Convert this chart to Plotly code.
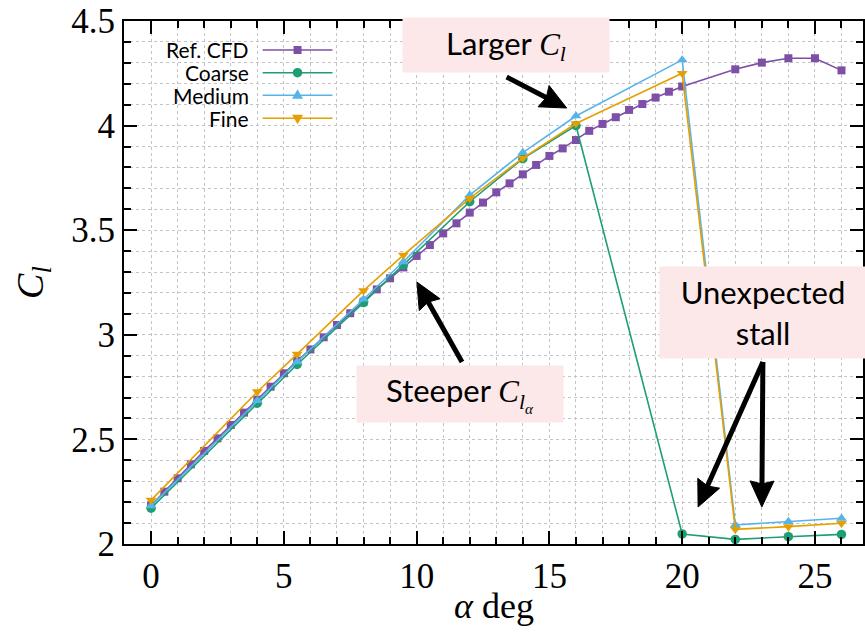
import math
import plotly.graph_objects as go

# ---------------- data ----------------
ref_alpha = [0, 0.5, 1, 1.5, 2, 2.5, 3, 3.5, 4, 4.5, 5, 5.5, 6, 6.5, 7, 7.5, 8, 8.5,
             9, 9.5, 10, 10.5, 11, 11.5, 12, 12.5, 13, 13.5, 14, 14.5, 15, 15.5,
             16, 16.5, 17, 17.5, 18, 18.5, 19, 19.5, 20, 22, 23, 24, 25, 26]
ref_cl = [2.185, 2.250, 2.314, 2.381, 2.445, 2.505, 2.569, 2.628, 2.690, 2.752,
          2.816, 2.876, 2.930, 2.988, 3.047, 3.103, 3.158, 3.217, 3.270, 3.322,
          3.377, 3.429, 3.485, 3.533, 3.584, 3.632, 3.681, 3.724, 3.767, 3.812,
          3.855, 3.891, 3.931, 3.975, 4.008, 4.040, 4.075, 4.103, 4.134, 4.162,
          4.187, 4.269, 4.301, 4.322, 4.322, 4.264]

grid_alpha = [0, 4, 5.5, 8, 9.5, 12, 14, 16, 20, 22, 24, 26]
coarse_cl = [2.171, 2.673, 2.858, 3.154, 3.334, 3.636, 3.842, 4.000, 2.048, 2.022, 2.035, 2.046]
medium_cl = [2.182, 2.685, 2.871, 3.170, 3.349, 3.668, 3.871, 4.046, 4.314, 2.091, 2.107, 2.123]
fine_cl = [2.210, 2.728, 2.908, 3.211, 3.381, 3.652, 3.845, 4.010, 4.250, 2.070, 2.083, 2.099]

series_names = ["Ref. CFD", "Coarse", "Medium", "Fine"]
series_x = [ref_alpha, grid_alpha, grid_alpha, grid_alpha]
series_y = [ref_cl, coarse_cl, medium_cl, fine_cl]

x_ticks = [0, 5, 10, 15, 20, 25]
y_ticks = [2, 2.5, 3, 3.5, 4, 4.5]
y_tick_text = ["2", "2.5", "3", "3.5", "4", "4.5"]

x_title = "<i>α</i> deg"
y_title = "<i>C</i><sub><i>l</i></sub>"

# ---------------- styles ----------------
colors = ["#7d4fa6", "#1e9e74", "#56b4e9", "#e69f00"]
symbols = ["square", "circle", "triangle-up", "triangle-down"]
msizes = [8, 9.5, 9.5, 9.5]

W, H = 865, 637
ML, MR, MT, MB = 124, 0, 21, 93
PW, PH = W - ML - MR, H - MT - MB
XR = [-1.02, 26.81]
YR = [2.0, 4.5]

SERIF = "Liberation Serif"
SANS = "Lato"
GRID = "#c4c4c4"
BOX = "#fce8e8"


def px2paper_x(px):
    return (px - ML) / PW


def px2paper_y(py):
    return (H - MB - py) / PH


def d2px(x, y):
    return (ML + (x - XR[0]) / (XR[1] - XR[0]) * PW,
            MT + (YR[1] - y) / (YR[1] - YR[0]) * PH)


def px2d(px, py):
    return (XR[0] + (px - ML) / PW * (XR[1] - XR[0]),
            YR[1] - (py - MT) / PH * (YR[1] - YR[0]))


fig = go.Figure()
for name, xs, ys, c, s, ms in zip(series_names, series_x, series_y, colors, symbols, msizes):
    fig.add_trace(go.Scatter(
        x=xs, y=ys, name=name, mode="lines+markers",
        line=dict(color=c, width=1.6),
        marker=dict(symbol=s, size=ms, color=c, line=dict(width=0)),
        showlegend=False,
    ))

axis_common = dict(
    showline=True, linecolor="black", linewidth=2, mirror="allticks",
    ticks="inside", ticklen=13, tickwidth=1.5, tickcolor="black",
    showgrid=True, gridcolor=GRID, griddash="dot", gridwidth=1,
    zeroline=False,
    tickfont=dict(family=SERIF, size=35, color="black"),
)

fig.update_xaxes(
    range=XR, tickvals=x_ticks,
    minor=dict(dtick=1, tick0=0, ticks="inside", ticklen=7, tickwidth=1.5,
               tickcolor="black", showgrid=True, gridcolor=GRID, griddash="dot", gridwidth=1),
    **axis_common,
)
fig.update_yaxes(
    range=YR, tickvals=y_ticks, ticktext=y_tick_text,
    minor=dict(dtick=0.1, tick0=2, ticks="inside", ticklen=7, tickwidth=1.5,
               tickcolor="black", showgrid=True, gridcolor=GRID, griddash="dot", gridwidth=1),
    title=dict(text=y_title, font=dict(family=SERIF, size=38, color="black"), standoff=16),
    **axis_common,
)

shapes = []
annotations = []

# x-axis title placed precisely
annotations.append(dict(
    x=0.5, y=px2paper_y(606), xref="paper", yref="paper", xanchor="center", yanchor="middle",
    text=x_title, showarrow=False, font=dict(family=SERIF, size=36, color="black"),
))

# ---------------- manual legend (text right-aligned, sample on the right) ----------------
leg_rows = [50, 72.7, 95.3, 118.3]
marker_paths = {
    "square": "M-4,-4 L4,-4 L4,4 L-4,4 Z",
    "triangle-up": "M-5.5,-3.5 L5.5,-3.5 L0,6 Z",
    "triangle-down": "M-5.5,3.5 L5.5,3.5 L0,-6 Z",
}
for name, c, s, py in zip(series_names, colors, symbols, leg_rows):
    yp = px2paper_y(py)
    annotations.append(dict(
        x=px2paper_x(250), y=yp, xref="paper", yref="paper", xanchor="right", yanchor="middle",
        text=name, showarrow=False, font=dict(family=SANS, size=21, color="black"),
        borderpad=0,
    ))
    shapes.append(dict(type="line", xref="paper", yref="paper",
                       x0=px2paper_x(263), x1=px2paper_x(333), y0=yp, y1=yp,
                       line=dict(color=c, width=1.6)))
    if s == "circle":
        shapes.append(dict(type="circle", xref="paper", yref="paper",
                           xsizemode="pixel", ysizemode="pixel",
                           xanchor=px2paper_x(298), yanchor=yp,
                           x0=-4.8, x1=4.8, y0=-4.8, y1=4.8,
                           fillcolor=c, line=dict(width=0)))
    else:
        shapes.append(dict(type="path", xref="paper", yref="paper",
                           xsizemode="pixel", ysizemode="pixel",
                           xanchor=px2paper_x(298), yanchor=yp,
                           path=marker_paths[s], fillcolor=c, line=dict(width=0)))

# ---------------- callout boxes ----------------
math_c = '<span style="font-family:Liberation Serif;font-style:italic">C</span>'
math_l = '<span style="font-family:Liberation Serif;font-style:italic">l</span>'
math_a = '<span style="font-family:Liberation Serif;font-style:italic">α</span>'

box_font = dict(family=SANS, size=31, color="black")
annotations += [
    dict(x=13.38, y=4.383, xref="x", yref="y", showarrow=False,
         text="Larger " + math_c + "<sub>" + math_l + "</sub>",
         bgcolor=BOX, width=200, height=48, borderpad=3, font=box_font),
    dict(x=11.65, y=2.719, xref="x", yref="y", showarrow=False,
         text="Steeper " + math_c + "<sub>" + math_l + "<sub>" + math_a + "</sub></sub>",
         bgcolor=BOX, width=200, height=50, borderpad=3, font=box_font),
    dict(x=23.05, y=3.109, xref="x", yref="y", showarrow=False,
         text="Unexpected<br>stall",
         bgcolor=BOX, width=200, height=85, borderpad=3, font=box_font),
]

# arrows drawn as shapes: head tip (x, y) and tail (ax, ay) in data units
arrow_specs = [
    (15.65, 4.084, 13.39, 4.232),
    (10.01, 3.252, 11.71, 2.870),
    (20.60, 2.177, 23.04, 2.870),
    (23.00, 2.177, 23.04, 2.870),
]
HEAD_L, HEAD_W, NOTCH = 26.0, 12.0, 3.0
for hx, hy, tx, ty in arrow_specs:
    hpx, hpy = d2px(hx, hy)
    tpx, tpy = d2px(tx, ty)
    dx, dy = hpx - tpx, hpy - tpy
    n = math.hypot(dx, dy)
    ux, uy = dx / n, dy / n
    nx, ny = -uy, ux
    bx, by = hpx - ux * HEAD_L, hpy - uy * HEAD_L
    p_l = (bx + nx * HEAD_W, by + ny * HEAD_W)
    p_r = (bx - nx * HEAD_W, by - ny * HEAD_W)
    p_n = (bx + ux * NOTCH, by + uy * NOTCH)
    lx, ly = px2d(bx + ux * (NOTCH + 2), by + uy * (NOTCH + 2))
    shapes.append(dict(type="line", xref="x", yref="y", x0=tx, y0=ty, x1=lx, y1=ly,
                       line=dict(color="black", width=5)))
    pts = [px2d(hpx, hpy), px2d(*p_l), px2d(*p_n), px2d(*p_r)]
    path = "M" + " L".join(f"{x:.5f},{y:.5f}" for x, y in pts) + " Z"
    shapes.append(dict(type="path", xref="x", yref="y", path=path,
                       fillcolor="black", line=dict(color="black", width=1)))

fig.update_layout(
    width=W, height=H,
    margin=dict(l=ML, r=MR, t=MT, b=MB),
    plot_bgcolor="white", paper_bgcolor="white",
    shapes=shapes, annotations=annotations,
    showlegend=False,
)

fig.write_html("out.html")
